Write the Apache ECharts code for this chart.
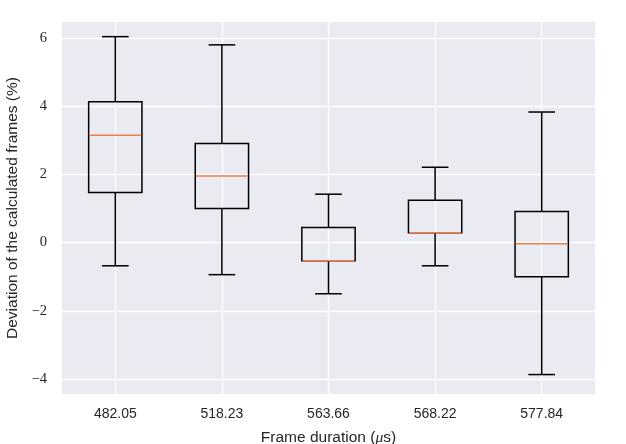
<!DOCTYPE html>
<html>
<head>
<meta charset="utf-8">
<script src="https://cdn.jsdelivr.net/npm/echarts@6/dist/echarts.min.js"></script>
<style>html,body{margin:0;padding:0;background:#fff}#c{width:626px;height:444px}</style>
</head>
<body>
<div id="c"></div>
<script>
const categories = ['482.05', '518.23', '563.66', '568.22', '577.84'];
const whiskerLow = [-0.68, -0.94, -1.50, -0.68, -3.87];
const q1 = [1.47, 1.00, -0.53, 0.29, -1.00];
const median = [3.15, 1.95, -0.53, 0.29, -0.03];
const q3 = [4.13, 2.91, 0.44, 1.24, 0.91];
const whiskerHigh = [6.04, 5.80, 1.42, 2.21, 3.83];
const yTicks = [-4, -2, 0, 2, 4, 6];
const xPositions = categories.map((c, i) => i + 1);

const data = categories.map((c, i) => [xPositions[i], whiskerLow[i], q1[i], median[i], q3[i], whiskerHigh[i]]);

const chart = echarts.init(document.getElementById('c'), null, {renderer: 'canvas'});
const black = '#000';
const lw = 1.5;

function renderItem(params, api) {
  const x = api.value(0);
  const lo = api.coord([x, api.value(1)]);
  const b1 = api.coord([x, api.value(2)]);
  const md = api.coord([x, api.value(3)]);
  const b3 = api.coord([x, api.value(4)]);
  const hi = api.coord([x, api.value(5)]);
  const bw = api.size([0.5, 0])[0];
  const cw = bw / 2;
  const cx = lo[0];
  const lineStyle = {stroke: black, lineWidth: lw, fill: null};
  return {
    type: 'group',
    children: [
      {type: 'line', shape: {x1: cx, y1: lo[1], x2: cx, y2: b1[1]}, style: lineStyle},
      {type: 'line', shape: {x1: cx, y1: b3[1], x2: cx, y2: hi[1]}, style: lineStyle},
      {type: 'line', shape: {x1: cx - cw / 2, y1: lo[1], x2: cx + cw / 2, y2: lo[1]}, style: lineStyle},
      {type: 'line', shape: {x1: cx - cw / 2, y1: hi[1], x2: cx + cw / 2, y2: hi[1]}, style: lineStyle},
      {type: 'rect', shape: {x: cx - bw / 2, y: b3[1], width: bw, height: b1[1] - b3[1]}, style: {stroke: black, lineWidth: lw, fill: 'rgba(0,0,0,0)'}},
      {type: 'line', shape: {x1: cx - bw / 2 + 0.75, y1: md[1], x2: cx + bw / 2 - 0.75, y2: md[1]}, style: {stroke: '#EE8045', lineWidth: lw}}
    ]
  };
}

chart.setOption({
  animation: false,
  grid: {left: 62, right: 31, top: 22, bottom: 50, show: true, backgroundColor: '#EAEAF2', borderWidth: 0,
    containLabel: false, outerBoundsMode: 'none'},
  xAxis: {
    type: 'value',
    min: 0.5,
    max: 5.5,
    axisLine: {show: false},
    axisTick: {show: false, customValues: xPositions},
    axisLabel: {
      customValues: xPositions,
      formatter: v => categories[Math.round(v) - 1] || '',
      color: '#262626', fontFamily: 'Liberation Sans Narrow, Liberation Sans, sans-serif', fontSize: 14, margin: 13
    },
    splitLine: {show: true, lineStyle: {color: '#fff', width: 1.3}},
    name: 'Frame duration ({m|μ}s)',
    nameLocation: 'middle',
    nameGap: 36,
    nameTextStyle: {color: '#262626', fontFamily: 'Liberation Sans Narrow, Liberation Sans, sans-serif', fontSize: 15.5,
      rich: {m: {fontStyle: 'italic', fontFamily: 'Liberation Serif, serif', fontSize: 15.5, color: '#262626'}}}
  },
  yAxis: {
    type: 'value',
    min: -4.44,
    max: 6.47,
    axisLine: {show: false},
    axisTick: {show: false, customValues: yTicks},
    axisLabel: {
      customValues: yTicks,
      formatter: v => String(v).replace('-', '\u2212'),
      color: '#262626', fontFamily: 'Liberation Serif, DejaVu Serif, serif', fontSize: 14.5, margin: 15
    },
    splitLine: {show: true, lineStyle: {color: '#fff', width: 1.3}},
    name: 'Deviation of the calculated frames (%)',
    nameLocation: 'middle',
    nameGap: 38,
    nameTextStyle: {color: '#262626', fontFamily: 'Liberation Sans Narrow, Liberation Sans, sans-serif', fontSize: 15.5}
  },
  series: [{
    type: 'custom',
    renderItem: renderItem,
    encode: {x: 0, y: [1, 2, 3, 4, 5]},
    data: data,
    clip: false
  }]
});
</script>
</body>
</html>
